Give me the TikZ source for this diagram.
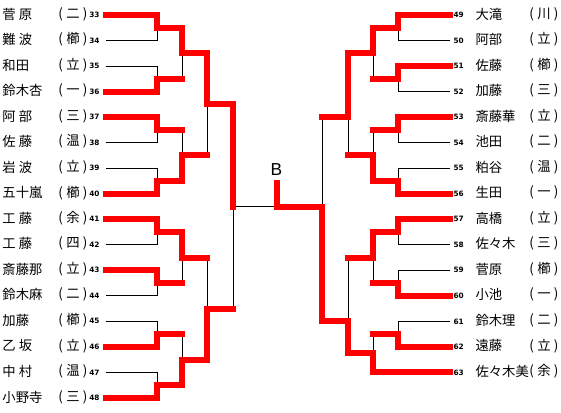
\documentclass[tikz,border=0pt]{standalone}
\usepackage{fontspec}
\setmainfont{Noto Sans CJK JP}
\newfontfamily\numfont{DejaVu Sans}
\newfontfamily\latinfont{Liberation Sans}
\newcommand{\schl}[1]{(\hspace{2.5pt}#1\hspace{2.5pt})}

\tikzset{every picture/.style={line width=0.75pt}}
\tikzset{
  lose/.style={draw=black, line width=0.75pt},
  win/.style={draw=red, line width=4.5pt, line cap=rect, line join=miter},
  pname/.style={inner sep=0pt, anchor=west, font=\fontsize{10}{12}\selectfont},
  pschool/.style={inner sep=0pt, anchor=east, font=\fontsize{10}{12}\selectfont},
  pnum/.style={inner sep=0pt, font=\numfont\bfseries\fontsize{5.5}{6}\selectfont},
}

\begin{document}
\begin{tikzpicture}[x=0.75pt,y=0.75pt,yscale=-1,xscale=1]
	\useasboundingbox (0,0) rectangle (561,413);
	
	%Junctions, left half
	\foreach \k in {1,...,8} \coordinate (m\k) at (182,{27.77+51.06*(\k-1)});
	\foreach \k in {1,...,4} \coordinate (n\k) at (207,{53.3+102.12*(\k-1)});
	\coordinate (o1) at (233,104.4);
	\coordinate (o2) at (233,308.7);
	%Junctions, right half
	\foreach \k in {1,...,7} \coordinate (M\k) at (373,{27.77+51.06*(\k-1)});
	\foreach \k in {1,...,3} \coordinate (N\k) at (348,{53.3+102.12*(\k-1)});
	\coordinate (N4) at (348,353.3);
	\coordinate (O1) at (322,117);
	\coordinate (O2) at (322,321);
	%Final
	\coordinate (fin) at (277,207);
	\coordinate (top) at (277,183);
	
	%Left players
	\foreach \n/\nm/\sc [count=\i from 0] in {33/菅~原/二, 34/難~波/櫛, 35/和田/立, 36/鈴木杏/一,
		37/阿~部/三, 38/佐~藤/温, 39/岩~波/立, 40/五十嵐/櫛, 41/工~藤/余, 42/工~藤/四,
		43/斎藤那/立, 44/鈴木麻/二, 45/加藤/櫛, 46/乙~坂/立, 47/中~村/温, 48/小野寺/三}{
		\pgfmathsetmacro\y{15+25.53*\i}
		\pgfmathtruncatemacro\k{\i/2+1}
		\coordinate (q\n) at (106,\y);
		\coordinate (p\n) at (157,\y);
		\node[pname] (nm\n) at (2,\y-1) {\nm};
		\node[pschool] (sc\n) at (88,\y-1) {\schl{\sc}};
		\node[pnum, anchor=east] (no\n) at (100,\y) {\n};
		\draw[lose] (q\n) -- (p\n) |- (m\k);
	}
	
	%Right players
	\foreach \n/\nm/\sc [count=\i from 0] in {49/大滝/川, 50/阿部/立, 51/佐藤/櫛, 52/加藤/三,
		53/斎藤華/立, 54/池田/二, 55/粕谷/温, 56/生田/一, 57/高橋/立, 58/佐々木/三,
		59/菅原/櫛, 60/小池/一, 61/鈴木理/二, 62/遠藤/立}{
		\pgfmathsetmacro\y{15+25.53*\i}
		\pgfmathtruncatemacro\k{\i/2+1}
		\coordinate (Q\n) at (450,\y);
		\coordinate (P\n) at (398,\y);
		\node[pname] (nm\n) at (475,\y-1) {\nm};
		\node[pschool] (sc\n) at (559,\y-1) {\schl{\sc}};
		\node[pnum, anchor=west] (no\n) at (453,\y) {\n};
		\draw[lose] (Q\n) -- (P\n) |- (M\k);
	}
	\coordinate (Q63) at (450,372.4);
	\coordinate (P63) at (373,372.4);
	\node[pname] (nm63) at (475,371.4) {佐々木美};
	\node[pschool] (sc63) at (559,371.4) {\schl{余}};
	\node[pnum, anchor=west] (no63) at (453,372.4) {63};
	\draw[lose] (Q63) -- (P63);
	
	%Bracket lines, left
	\foreach \k in {1,...,8}{\pgfmathtruncatemacro\j{(\k+1)/2} \draw[lose] (m\k) |- (n\j);}
	\foreach \k in {1,2}{\draw[lose] (n\k) |- (o1);}
	\foreach \k in {3,4}{\draw[lose] (n\k) |- (o2);}
	\draw[lose] (o1) |- (fin);
	\draw[lose] (o2) |- (fin);
	%Bracket lines, right
	\foreach \k in {1,...,7}{\pgfmathtruncatemacro\j{(\k+1)/2} \draw[lose] (M\k) |- (N\j);}
	\draw[lose] (P63) |- (N4);
	\foreach \k in {1,2}{\draw[lose] (N\k) |- (O1);}
	\foreach \k in {3,4}{\draw[lose] (N\k) |- (O2);}
	\draw[lose] (O1) |- (fin);
	\draw[lose] (O2) |- (fin);
	
	%Winners, left
	\draw[win] (q33) -- (p33) |- (m1) |- (n1) |- (o1) -- (o1 |- fin);
	\draw[win] (q36) -- (p36) |- (m2);
	\draw[win] (q37) -- (p37) |- (m3);
	\draw[win] (q40) -- (p40) |- (m4) |- (n2);
	\draw[win] (q41) -- (p41) |- (m5) |- (n3);
	\draw[win] (q43) -- (p43) |- (m6);
	\draw[win] (q46) -- (p46) |- (m7);
	\draw[win] (q48) -- (p48) |- (m8) |- (n4) |- (o2);
	%Winners, right
	\draw[win] (Q49) -- (P49) |- (M1) |- (N1) |- (O1);
	\draw[win] (Q51) -- (P51) |- (M2);
	\draw[win] (Q53) -- (P53) |- (M3);
	\draw[win] (Q56) -- (P56) |- (M4) |- (N2);
	\draw[win] (Q57) -- (P57) |- (M5) |- (N3);
	\draw[win] (Q60) -- (P60) |- (M6);
	\draw[win] (Q62) -- (P62) |- (M7);
	\draw[win] (Q63) -- (P63) |- (N4) |- (O2) |- (fin) -- (top);
	
	% Text Node
	\node[inner sep=0pt, font=\latinfont\fontsize{13}{13}\selectfont] (blabel) at (276.5,169.5) {B};
	
\end{tikzpicture}
\end{document}
